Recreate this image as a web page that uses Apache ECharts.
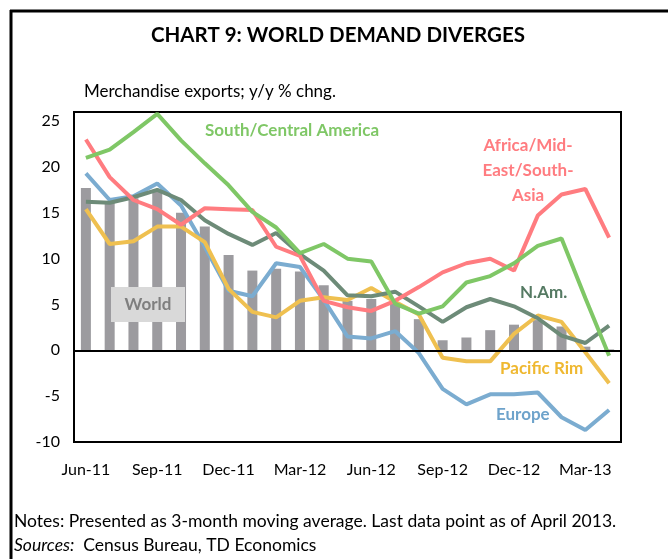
<!DOCTYPE html>
<html>
<head>
<meta charset="utf-8">
<script src="https://cdn.jsdelivr.net/npm/echarts@6/dist/echarts.min.js"></script>
<style>
  html, body { margin: 0; padding: 0; background: #fff; }
  #chart { width: 668px; height: 559px; }
</style>
</head>
<body>
<div id="chart"></div>
<script>
const months = ['Jun-11', 'Jul-11', 'Aug-11', 'Sep-11', 'Oct-11', 'Nov-11', 'Dec-11', 'Jan-12',
  'Feb-12', 'Mar-12', 'Apr-12', 'May-12', 'Jun-12', 'Jul-12', 'Aug-12', 'Sep-12', 'Oct-12',
  'Nov-12', 'Dec-12', 'Jan-13', 'Feb-13', 'Mar-13', 'Apr-13']

// y/y % change, 3-month moving average
const world = [17.7, 16.3, 16.6, 17.4, 15.0, 13.5, 10.4, 8.7, 8.9, 8.6, 7.1, 5.4, 5.6, 5.2, 3.4, 1.1, 1.4, 2.2, 2.8, 3.3, 2.6, 0.4, 0.1]
const southCentralAmerica = [21.0, 21.9, 23.8, 25.8, 22.9, 20.4, 18.0, 15.1, 13.4, 10.6, 11.6, 10.0, 9.7, 5.1, 4.0, 4.8, 7.4, 8.1, 9.5, 11.4, 12.2, 5.7, -0.6]
const africaMidEastSouthAsia = [23.0, 18.9, 16.4, 15.4, 13.7, 15.5, 15.4, 15.3, 11.3, 10.3, 5.4, 4.7, 4.3, 5.4, 6.9, 8.5, 9.5, 10.0, 8.7, 14.7, 17.0, 17.6, 12.3]
const northAmerica = [16.2, 16.1, 16.7, 17.5, 16.4, 14.2, 12.7, 11.5, 12.8, 10.5, 8.7, 6.0, 5.9, 6.4, 4.8, 3.1, 4.7, 5.6, 4.8, 3.5, 1.6, 0.8, 2.7]
const europe = [19.3, 16.4, 16.8, 18.2, 15.8, 11.3, 6.5, 5.9, 9.5, 9.1, 5.5, 1.5, 1.3, 2.1, -0.3, -4.2, -5.9, -4.8, -4.8, -4.6, -7.3, -8.7, -6.5]
const pacificRim = [15.4, 11.6, 11.9, 13.5, 13.5, 11.8, 6.7, 4.2, 3.6, 5.4, 5.8, 5.5, 6.8, 5.3, 3.9, -0.8, -1.2, -1.2, 1.8, 3.8, 3.1, -0.2, -3.6]

const FONT = 'Lato, "Open Sans", sans-serif'

const chart = echarts.init(document.getElementById('chart'))

const lineSeries = (name, data, color) => ({
  name: name,
  type: 'line',
  data: data,
  symbol: 'none',
  lineStyle: { color: color, width: 4 },
  itemStyle: { color: color },
  z: 3
})

const label = (text, x, y, color, align) => ({
  type: 'text',
  x: x,
  y: y,
  style: {
    text: text,
    fill: color,
    font: 'bold 17px ' + FONT,
    align: align || 'left',
    verticalAlign: 'middle',
    lineHeight: 25
  }
})

const options = {
  animation: false,
  grid: {
    left: 74,
    right: 47,
    top: 112,
    bottom: 117,
    show: true,
    borderColor: '#000',
    borderWidth: 2,
    backgroundColor: 'transparent'
  },
  xAxis: {
    type: 'category',
    data: months,
    axisLine: { show: false, onZero: false },
    axisTick: { show: false },
    axisLabel: {
      interval: 2,
      margin: 20,
      color: '#000',
      fontSize: 16,
      fontFamily: FONT
    }
  },
  yAxis: {
    type: 'value',
    min: -10,
    max: 26,
    interval: 5,
    axisLine: { show: false },
    axisTick: { show: false },
    splitLine: { show: false },
    axisLabel: {
      showMaxLabel: false,
      margin: 14,
      color: '#000',
      fontSize: 16,
      fontFamily: FONT
    }
  },
  series: [
    {
      name: 'World',
      type: 'bar',
      data: world,
      barWidth: 10,
      itemStyle: { color: '#9c9b9f' },
      markLine: {
        silent: true,
        symbol: ['none', 'none'],
        label: { show: false },
        lineStyle: { color: '#000', width: 2, type: 'solid' },
        data: [{ yAxis: 0 }]
      },
      z: 2
    },
    lineSeries('Europe', europe, '#7bacd0'),
    lineSeries('Pacific Rim', pacificRim, '#efc050'),
    lineSeries('N.Am.', northAmerica, '#6d8b78'),
    lineSeries('Africa/Mid-East/South-Asia', africaMidEastSouthAsia, '#ff7c80'),
    lineSeries('South/Central America', southCentralAmerica, '#7fc766')
  ],
  graphic: [
    // outer frame (top and left only)
    { type: 'line', shape: { x1: 10, y1: 11, x2: 668, y2: 11 }, style: { stroke: '#000', lineWidth: 3 } },
    { type: 'line', shape: { x1: 11, y1: 10, x2: 11, y2: 559 }, style: { stroke: '#000', lineWidth: 3 } },
    {
      type: 'text', x: 338, y: 35,
      style: { text: 'CHART 9: WORLD DEMAND DIVERGES', fill: '#000', font: 'bold 20.5px ' + FONT, align: 'center', verticalAlign: 'middle' }
    },
    {
      type: 'text', x: 84, y: 92,
      style: { text: 'Merchandise exports; y/y % chng.', fill: '#000', font: '17px ' + FONT, verticalAlign: 'middle' }
    },
    label('South/Central America', 205, 131, '#7fc766'),
    label('Africa/Mid-\nEast/South-\nAsia', 528, 171, '#ff7c80', 'center'),
    label('N.Am.', 520, 293, '#557a63'),
    label('Pacific Rim', 500, 369, '#efb830'),
    label('Europe', 496, 415, '#6ea3cb'),
    { type: 'rect', shape: { x: 111, y: 287, width: 74, height: 35 }, style: { fill: '#d9d9d9' }, z: 10 },
    {
      type: 'text', x: 148, y: 305, z: 11,
      style: { text: 'World', fill: '#7f7f7f', font: 'bold 17px ' + FONT, align: 'center', verticalAlign: 'middle' }
    },
    {
      type: 'text', x: 14, y: 521,
      style: { text: 'Notes: Presented as 3-month moving average. Last data point as of April 2013.', fill: '#000', font: '17.5px ' + FONT, verticalAlign: 'middle' }
    },
    {
      type: 'text', x: 14, y: 545,
      style: {
        text: '{i|Sources:}  Census Bureau, TD Economics',
        fill: '#000',
        font: '17.5px ' + FONT,
        verticalAlign: 'middle',
        rich: { i: { fontStyle: 'italic', fontSize: 17.5, fontFamily: FONT } }
      }
    }
  ]
}
chart.setOption(options)
window.addEventListener('resize', function () {
  chart.resize()
})
</script>
</body>
</html>
